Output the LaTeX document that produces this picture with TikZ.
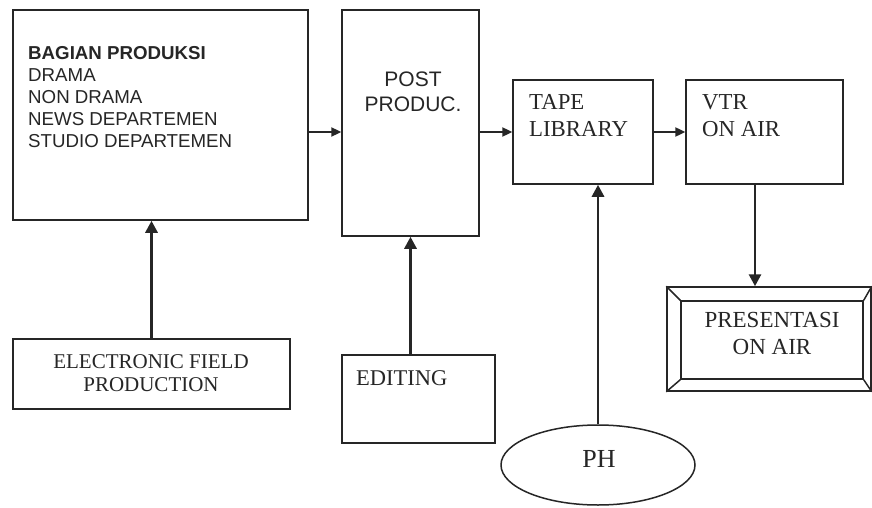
\documentclass[tikz,border=0pt]{standalone}
\usepackage{fontspec}
\setmainfont{Liberation Serif}
\setsansfont{Liberation Sans}
\usetikzlibrary{shapes.geometric,arrows.meta,calc}
\definecolor{ink}{HTML}{262626}
\begin{document}
\begin{tikzpicture}[x=1pt,y=-1pt,
  box/.style={draw=ink, line width=1.5pt, inner sep=0pt, rectangle},
  varr/.style={draw=ink, line width=2.8pt, -{Triangle[length=12pt,width=12pt]}},
  harr/.style={draw=ink, line width=2.3pt, -{Triangle[length=10pt,width=9pt]}},
  sanstxt/.style={font=\sffamily\fontsize{18.7}{22}\selectfont, text=ink, inner sep=0pt, align=left},
  serif/.style={font=\fontsize{22.8}{27}\selectfont, text=ink, inner sep=0pt}]
\useasboundingbox (0,0) rectangle (872,508);
\fill[white] (0,0) rectangle (872,508);

% boxes
\node[box, minimum width=295pt, minimum height=210pt] (prod) at (160.5,115) {};
\node[box, minimum width=137pt, minimum height=226pt] (post) at (410.5,123) {};
\node[box, minimum width=140pt, minimum height=104pt] (tape) at (583,132) {};
\node[box, minimum width=157pt, minimum height=104pt] (vtr) at (764.5,132) {};
\node[box, minimum width=277pt, minimum height=70pt] (efp) at (151.5,374) {};
\node[box, minimum width=153pt, minimum height=88pt] (edit) at (418.5,399) {};
\node[ellipse, draw=ink, line width=1.5pt, inner sep=0pt, minimum width=194pt, minimum height=80pt] (ph) at (598,465) {};
\node[box, minimum width=204pt, minimum height=104pt] (pres) at (769,339) {};
\node[box, minimum width=182pt, minimum height=78pt] (presin) at (772,340) {};
\draw[ink, line width=1.5pt] (pres.north west) -- (presin.north west)
  (pres.north east) -- (presin.north east)
  (pres.south west) -- (presin.south west)
  (pres.south east) -- (presin.south east);

% texts
\node[sanstxt, anchor=north west] (prodtxt) at (28,46.6) {\textbf{BAGIAN PRODUKSI}\\DRAMA\\NON DRAMA\\NEWS DEPARTEMEN\\STUDIO DEPARTEMEN};
\node[sanstxt, font=\sffamily\fontsize{21}{25}\selectfont, align=center, anchor=north] (posttxt) at (413,72) {POST\\PRODUC.};
\node[serif, align=left, anchor=north west] (tapetxt) at (529,94) {TAPE\\LIBRARY};
\node[serif, align=left, anchor=north west] (vtrtxt) at (702,94) {VTR\\ON AIR};
\node[serif, font=\fontsize{21}{23}\selectfont, align=center, anchor=north] (efptxt) at (151,354) {ELECTRONIC FIELD\\PRODUCTION};
\node[serif, font=\fontsize{22.5}{27}\selectfont, anchor=north west] (edittxt) at (356,370) {EDITING};
\node[serif, font=\fontsize{23}{27}\selectfont, align=center, anchor=north] (prestxt) at (772,312) {PRESENTASI\\ON AIR};
\node[serif, font=\fontsize{26}{28}\selectfont, anchor=north] (phtxt) at (599,450) {PH};

% connectors
\draw[harr] (prod.east |- tape) -- (post.west |- tape);
\draw[harr] (post.east |- tape) -- (tape.west);
\draw[harr] (tape.east) -- (vtr.west);
\draw[varr] (efp.north) -- (efp.north |- prod.south);
\draw[varr] (edit.north -| post.south) -- (post.south);
\draw[varr] (ph.north) -- (ph.north |- tape.south);
\coordinate (vtrout) at ($(vtr.south)+(-9.5,0)$);
\draw[varr] (vtrout) -- (vtrout |- pres.north);
\end{tikzpicture}
\end{document}
